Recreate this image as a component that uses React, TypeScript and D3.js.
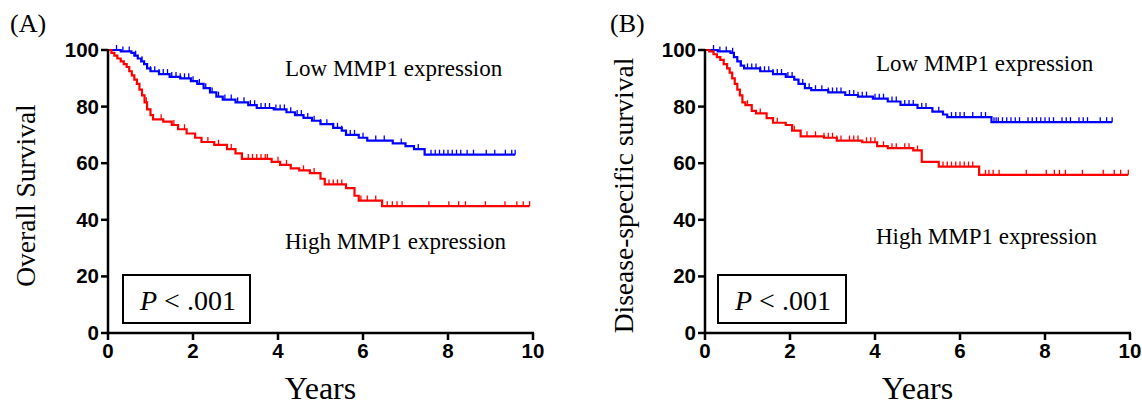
import React from "react";
import * as d3 from "d3";

// ---------- DATA ----------
const xTicks = [0, 2, 4, 6, 8, 10];
const yTicks = [0, 20, 40, 60, 80, 100];

// Panel A – Overall survival: [years, survival %] step points
const osLowSteps: [number, number][] = [
  [0, 100], [0.3, 99.5], [0.55, 99], [0.62, 98], [0.7, 97], [0.78, 96], [0.85, 95], [0.92, 93.5],
  [1.0, 92.5], [1.2, 91.5], [1.45, 90.5], [1.7, 90], [1.95, 89], [2.1, 88], [2.25, 86.5], [2.4, 85],
  [2.55, 83.5], [2.7, 82.5], [3.0, 81.5], [3.3, 80.5], [3.5, 79.5], [3.9, 79], [4.2, 78], [4.4, 77],
  [4.6, 76], [4.8, 75], [5.0, 73.8], [5.3, 72.5], [5.5, 71.5], [5.6, 70], [5.9, 69], [6.1, 68],
  [6.7, 67], [7.0, 66], [7.2, 65], [7.45, 63], [9.58, 63],
];
const osLowCensor = [
  0.2, 0.35, 0.5, 0.65, 0.8, 1.0, 1.1, 1.2, 1.3, 1.4, 1.5, 1.6, 1.7, 1.8, 1.9, 2.0, 2.15, 2.3, 2.45,
  2.6, 2.75, 2.9, 3.05, 3.2, 3.35, 3.45, 3.6, 3.7, 3.8, 3.95, 4.05, 4.15, 4.3, 4.45, 4.55, 4.7, 4.85,
  5.0, 5.15, 5.3, 5.4, 5.5, 5.7, 5.8, 6.0, 6.3, 6.5, 6.9, 7.3, 7.6, 7.7, 7.8, 7.9, 8.0, 8.1, 8.2,
  8.3, 8.45, 8.6, 8.9, 9.1, 9.35, 9.5, 9.58,
];
const osHighSteps: [number, number][] = [
  [0, 100], [0.08, 99], [0.15, 98], [0.22, 97], [0.3, 96], [0.37, 95], [0.44, 94], [0.5, 92.5],
  [0.56, 91], [0.62, 89.5], [0.68, 88], [0.74, 86], [0.8, 84], [0.86, 81.5], [0.92, 79], [1.0, 77],
  [1.06, 75.5], [1.3, 74.7], [1.5, 73.5], [1.65, 72], [1.85, 70.5], [2.05, 69], [2.2, 67.5],
  [2.5, 66.5], [2.8, 65], [3.0, 63.5], [3.15, 61.5], [3.85, 60.5], [4.05, 59.4], [4.3, 58.2],
  [4.5, 57.5], [4.75, 56.5], [5.0, 54.5], [5.1, 52.5], [5.6, 51.2], [5.8, 48.5], [5.9, 46.8],
  [6.45, 44.8], [9.92, 44.8],
];
const osHighCensor = [
  0.9, 1.25, 1.55, 1.8, 2.35, 2.6, 2.9, 3.3, 3.4, 3.5, 3.6, 3.7, 3.75, 4.0, 4.2, 4.6, 4.85, 5.2, 5.3,
  5.4, 5.5, 5.95, 6.1, 6.3, 6.57, 6.69, 6.8, 6.92, 7.55, 8.02, 8.25, 8.41, 8.88, 9.34, 9.62, 9.77, 9.92,
];

// Panel B – Disease-specific survival
const dssLowSteps: [number, number][] = [
  [0, 100], [0.3, 99.5], [0.6, 99], [0.68, 97.5], [0.76, 96], [0.84, 94.5], [0.92, 93.5], [1.3, 92.5],
  [1.6, 91.5], [1.9, 90.5], [2.1, 89.5], [2.2, 88], [2.35, 86.5], [2.5, 85.8], [2.9, 85], [3.3, 84.1],
  [3.6, 83.5], [3.95, 82.8], [4.3, 81.8], [4.6, 80.6], [5.0, 79.5], [5.35, 78.2], [5.6, 77.2],
  [5.7, 76.3], [6.74, 74.5], [9.58, 74.5],
];
const dssLowCensor = [
  0.2, 0.35, 0.5, 0.65, 0.85, 1.0, 1.1, 1.2, 1.3, 1.4, 1.5, 1.6, 1.7, 1.8, 1.95, 2.05, 2.3, 2.45,
  2.6, 2.75, 2.9, 3.0, 3.1, 3.2, 3.4, 3.5, 3.6, 3.7, 3.8, 4.0, 4.1, 4.2, 4.4, 4.5, 4.7, 4.8, 4.9,
  5.1, 5.2, 5.5, 5.8, 5.9, 6.0, 6.1, 6.3, 6.5, 6.6, 6.8, 6.85, 6.9, 7.0, 7.1, 7.2, 7.3, 7.4, 7.6,
  7.7, 7.8, 7.9, 8.0, 8.1, 8.2, 8.4, 8.5, 8.6, 8.8, 8.9, 9.0, 9.3, 9.45, 9.58,
];
const dssHighSteps: [number, number][] = [
  [0, 100], [0.1, 99.5], [0.2, 98.5], [0.28, 97.5], [0.36, 96.5], [0.44, 95], [0.52, 93.5],
  [0.58, 92], [0.64, 90], [0.7, 88], [0.76, 86], [0.82, 84], [0.88, 81.5], [0.95, 80.5], [1.1, 78.5],
  [1.2, 77.6], [1.45, 75.9], [1.6, 74.3], [1.9, 73.5], [2.05, 71.5], [2.25, 69.5], [2.8, 69],
  [3.1, 68], [3.7, 67.4], [4.05, 66], [4.3, 65.3], [4.9, 64.5], [5.1, 60.5], [5.5, 58.8],
  [6.45, 55.9], [9.96, 55.9],
];
const dssHighCensor = [
  1.0, 1.3, 1.7, 2.1, 2.4, 2.6, 2.8, 2.9, 3.0, 3.1, 3.2, 3.4, 3.5, 3.6, 3.8, 3.9, 4.0, 4.2, 4.4, 4.5,
  4.7, 4.8, 5.0, 5.6, 5.7, 5.8, 5.9, 6.0, 6.1, 6.2, 6.3, 6.6, 6.68, 6.78, 6.92, 7.56, 8.03, 8.22,
  8.34, 8.48, 8.88, 9.37, 9.63, 9.78, 9.96,
];

const panels = [
  {
    letter: "(A)", yLabel: "Overall Survival",
    low: osLowSteps, lowC: osLowCensor, high: osHighSteps, highC: osHighCensor,
  },
  {
    letter: "(B)", yLabel: "Disease-specific survival",
    low: dssLowSteps, lowC: dssLowCensor, high: dssHighSteps, highC: dssHighCensor,
  },
];

// ---------- LAYOUT ----------
const W = 1142, H = 407;
const layouts = [
  { x0: 108, x1: 533, letterX: 10, yLabelX: 35, lowY: 76, highY: 249, textX: 285, boxX: 123, boxW: 127, pX: 140 },
  { x0: 705, x1: 1130, letterX: 610, yLabelX: 633, lowY: 71, highY: 244, textX: 876, boxX: 718, boxW: 128, pX: 735 },
];
const yTop = 50, yBot = 333;
const serif = "'Liberation Serif', 'Times New Roman', serif";
const sans = "'Liberation Sans', Arial, sans-serif";

function survAt(steps: [number, number][], t: number) {
  let v = steps[0][1];
  for (const [tt, vv] of steps) { if (tt <= t + 1e-9) v = vv; else break; }
  return v;
}

function Panel({ p, l }: { p: typeof panels[0]; l: typeof layouts[0] }) {
  const x = d3.scaleLinear().domain([0, 10]).range([l.x0, l.x1]);
  const y = d3.scaleLinear().domain([0, 100]).range([yBot, yTop]);
  const line = d3.line<[number, number]>().x(d => x(d[0])).y(d => y(d[1])).curve(d3.curveStepAfter);
  const curves = [
    { steps: p.low, cens: p.lowC, color: "#0000ff" },
    { steps: p.high, cens: p.highC, color: "#ff0000" },
  ];
  return (
    <g>
      <text x={l.letterX} y={32} fontFamily={serif} fontSize={26}>{p.letter}</text>
      <text transform={`translate(${l.yLabelX},${(yTop + yBot) / 2 + 4}) rotate(-90)`} textAnchor="middle"
        fontFamily={serif} fontSize={27.5}>{p.yLabel}</text>
      {curves.map((c, i) => (
        <g key={i}>
          <path d={line(c.steps) || ""} fill="none" stroke={c.color} strokeWidth={2.2} />
          {c.cens.map((t, j) => (
            <line key={j} x1={x(t)} x2={x(t)} y1={y(survAt(c.steps, t))} y2={y(survAt(c.steps, t)) - 5}
              stroke={c.color} strokeWidth={1.3} />
          ))}
        </g>
      ))}
      {/* axes */}
      <line x1={l.x0} x2={l.x0} y1={yTop - 1} y2={yBot} stroke="#000" strokeWidth={2.5} />
      <line x1={l.x0 - 1} x2={l.x1 + 1} y1={yBot} y2={yBot} stroke="#000" strokeWidth={2.5} />
      {yTicks.map(t => (
        <g key={"y" + t}>
          <line x1={l.x0 - 7} x2={l.x0} y1={y(t)} y2={y(t)} stroke="#000" strokeWidth={2.5} />
          <text x={l.x0 - 9} y={y(t) + 7} textAnchor="end" fontFamily={sans} fontWeight="bold" fontSize={20.5}>{t}</text>
        </g>
      ))}
      {xTicks.map(t => (
        <g key={"x" + t}>
          <line x1={x(t)} x2={x(t)} y1={yBot} y2={yBot + 7} stroke="#000" strokeWidth={2.5} />
          <text x={x(t)} y={yBot + 25} textAnchor="middle" fontFamily={sans} fontWeight="bold" fontSize={20.5}>{t}</text>
        </g>
      ))}
      <text x={(l.x0 + l.x1) / 2} y={399} textAnchor="middle" fontFamily={serif} fontSize={32}>Years</text>
      <text x={l.textX} y={l.lowY} fontFamily={serif} fontSize={23}>Low MMP1 expression</text>
      <text x={l.textX} y={l.highY} fontFamily={serif} fontSize={23}>High MMP1 expression</text>
      <rect x={l.boxX} y={275} width={l.boxW} height={48} fill="#fff" stroke="#000" strokeWidth={2} />
      <text x={l.pX} y={310} fontFamily={serif} fontSize={28}>
        <tspan fontStyle="italic">P</tspan> &lt; .001
      </text>
    </g>
  );
}

export default function App() {
  return (
    <svg width={W} height={H} style={{ position: "absolute", left: 0, top: 0, background: "#fff" }}>
      <rect width={W} height={H} fill="#fff" />
      {panels.map((p, i) => <Panel key={i} p={p} l={layouts[i]} />)}
    </svg>
  );
}
